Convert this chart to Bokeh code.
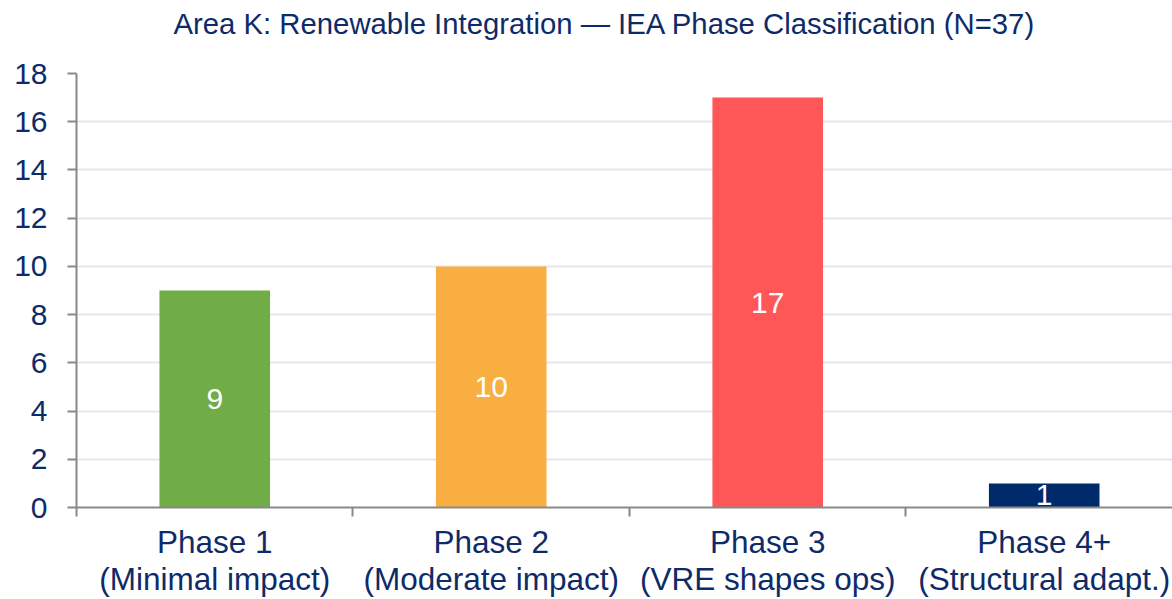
from bokeh.plotting import figure
from bokeh.models import ColumnDataSource, Range1d, FixedTicker, LabelSet
from bokeh.core.properties import value
from bokeh.embed import file_html
from bokeh.resources import INLINE

# ---- data ----
phases = [
    "Phase 1\n(Minimal impact)",
    "Phase 2\n(Moderate impact)",
    "Phase 3\n(VRE shapes ops)",
    "Phase 4+\n(Structural adapt.)",
]
counts = [9, 10, 17, 1]
colors = ["#70AD47", "#F9AE41", "#FF5757", "#002B6B"]
y_ticks = [0, 2, 4, 6, 8, 10, 12, 14, 16, 18]
title_text = "Area K: Renewable Integration \u2014 IEA Phase Classification (N=37)"

NAVY = "#0E2B69"
FONT = "Liberation Sans"
AXIS = "#898989"

xs = [i + 0.5 for i in range(len(phases))]
src = ColumnDataSource(dict(
    x=xs, top=counts, mid=[c / 2 for c in counts],
    label=[str(c) for c in counts], color=colors,
))

p = figure(
    width=1172, height=599,
    x_range=Range1d(0, 3.964), y_range=Range1d(0, 18),
    output_backend="svg", toolbar_location=None,
    min_border_left=76, min_border_right=0,
    min_border_top=73, min_border_bottom=92,
)
p.outline_line_color = None
p.background_fill_color = "white"
p.border_fill_color = "white"

p.vbar(x="x", top="top", width=0.4, fill_color="color", line_color=None, source=src)

labels = LabelSet(
    x="x", y="mid", text="label", source=src,
    text_align="center", text_baseline="middle",
    text_color="white", text_font_size="30px", text_font=value(FONT),
)
p.add_layout(labels)

# title: an empty second line keeps the text near the top of the border
p.title.text = title_text + "\n"
p.title.align = "left"
p.title.offset = 97
p.title.standoff = 2
p.title.text_font = FONT
p.title.text_font_size = "29.3px"
p.title.text_font_style = "normal"
p.title.text_color = NAVY

# x axis
xa = p.xaxis[0]
xa.ticker = FixedTicker(ticks=xs, minor_ticks=[0, 1, 2, 3, 4])
xa.major_label_overrides = {x: lab for x, lab in zip(xs, phases)}
xa.major_tick_line_color = None
xa.minor_tick_line_color = AXIS
xa.minor_tick_line_width = 2
xa.minor_tick_out = 9
xa.minor_tick_in = 0
xa.axis_line_color = AXIS
xa.axis_line_width = 2
xa.major_label_text_font = FONT
xa.major_label_text_font_size = "31.5px"
xa.major_label_text_color = NAVY
xa.major_label_text_line_height = 1.03
xa.major_label_standoff = 7

# y axis
ya = p.yaxis[0]
ya.ticker = FixedTicker(ticks=y_ticks, minor_ticks=[])
ya.major_tick_line_color = AXIS
ya.major_tick_line_width = 2
ya.major_tick_out = 9
ya.major_tick_in = 0
ya.axis_line_color = AXIS
ya.axis_line_width = 2
ya.major_label_text_font = FONT
ya.major_label_text_font_size = "30px"
ya.major_label_text_color = NAVY
ya.major_label_standoff = 20

p.xgrid.visible = False
p.ygrid.grid_line_color = "#E3E8EF"
p.ygrid.grid_line_width = 2

open("out.html", "w").write(file_html(p, INLINE))
